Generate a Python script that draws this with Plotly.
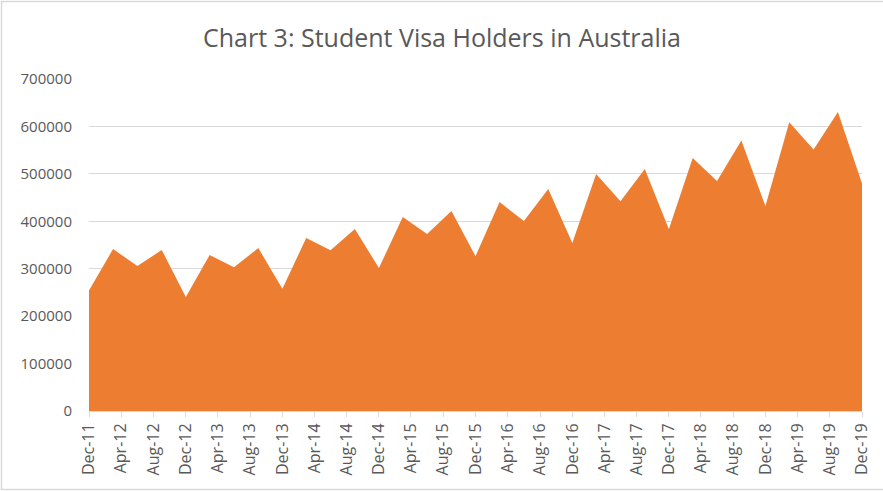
import plotly.graph_objects as go

dates = [
    "2011-12-01", "2012-03-01", "2012-06-01", "2012-09-01",
    "2012-12-01", "2013-03-01", "2013-06-01", "2013-09-01",
    "2013-12-01", "2014-03-01", "2014-06-01", "2014-09-01",
    "2014-12-01", "2015-03-01", "2015-06-01", "2015-09-01",
    "2015-12-01", "2016-03-01", "2016-06-01", "2016-09-01",
    "2016-12-01", "2017-03-01", "2017-06-01", "2017-09-01",
    "2017-12-01", "2018-03-01", "2018-06-01", "2018-09-01",
    "2018-12-01", "2019-03-01", "2019-06-01", "2019-09-01",
    "2019-12-01",
]
holders = [
    254000, 341500, 305500, 339500,
    240500, 329000, 303000, 343500,
    257500, 364500, 339000, 383500,
    301500, 409000, 373000, 421500,
    326500, 440500, 400500, 468000,
    354000, 499500, 442500, 510500,
    383000, 533500, 485000, 570500,
    432000, 609000, 551500, 630500,
    479500,
]
tick_dates = [
    "2011-12-01", "2012-04-01", "2012-08-01", "2012-12-01",
    "2013-04-01", "2013-08-01", "2013-12-01", "2014-04-01",
    "2014-08-01", "2014-12-01", "2015-04-01", "2015-08-01",
    "2015-12-01", "2016-04-01", "2016-08-01", "2016-12-01",
    "2017-04-01", "2017-08-01", "2017-12-01", "2018-04-01",
    "2018-08-01", "2018-12-01", "2019-04-01", "2019-08-01",
    "2019-12-01",
]
y_ticks = [0, 100000, 200000, 300000, 400000, 500000, 600000, 700000]

W, H = 883, 491
L, R, T, B = 89, 21, 79, 80
pw, ph = W - L - R, H - T - B

fig = go.Figure()
fig.add_trace(go.Scatter(
    x=dates, y=holders, mode="lines", fill="tozeroy",
    line=dict(color="#ED7D31", width=0), fillcolor="#ED7D31",
    showlegend=False, hoverinfo="x+y",
))

txt = "#595959"
fnt = "Open Sans, sans-serif"
fig.update_layout(
    width=W, height=H,
    margin=dict(l=L, r=R, t=T, b=B),
    paper_bgcolor="white", plot_bgcolor="white",
    font=dict(family=fnt, color=txt),
    title=dict(text="Chart 3: Student Visa Holders in Australia",
               x=(442 - L) / pw, xref="paper", xanchor="center",
               y=1 - 38 / H, yanchor="middle",
               font=dict(size=25, color=txt, family=fnt)),
    xaxis=dict(
        type="date", range=["2011-12-01", "2019-12-01"],
        tickvals=tick_dates, tickformat="%b-%y", tickangle=-90,
        tickfont=dict(size=16, color=txt),
        ticks="outside", ticklen=5, tickcolor="#D9D9D9",
        showline=True, linecolor="#D9D9D9", linewidth=1,
        showgrid=False, zeroline=False,
    ),
    yaxis=dict(
        range=[0, 700000], tickvals=y_ticks, tickformat="d",
        tickfont=dict(size=15, color=txt),
        showgrid=True, gridcolor="#D9D9D9", gridwidth=1,
        zeroline=False, showline=False, ticks="",
        ticklabelstandoff=16,
    ),
    shapes=[dict(
        type="rect", xref="paper", yref="paper",
        x0=(1.5 - L) / pw, x1=(W + 5 - L) / pw,
        y0=-(B - 1.5) / ph,
        y1=1 + (T - 1.5) / ph,
        line=dict(color="#D9D9D9", width=1.5), fillcolor="rgba(0,0,0,0)",
        layer="below",
    )],
)

fig.write_html("out.html", config={"displayModeBar": False},
               post_script="document.body.style.margin='0';")
